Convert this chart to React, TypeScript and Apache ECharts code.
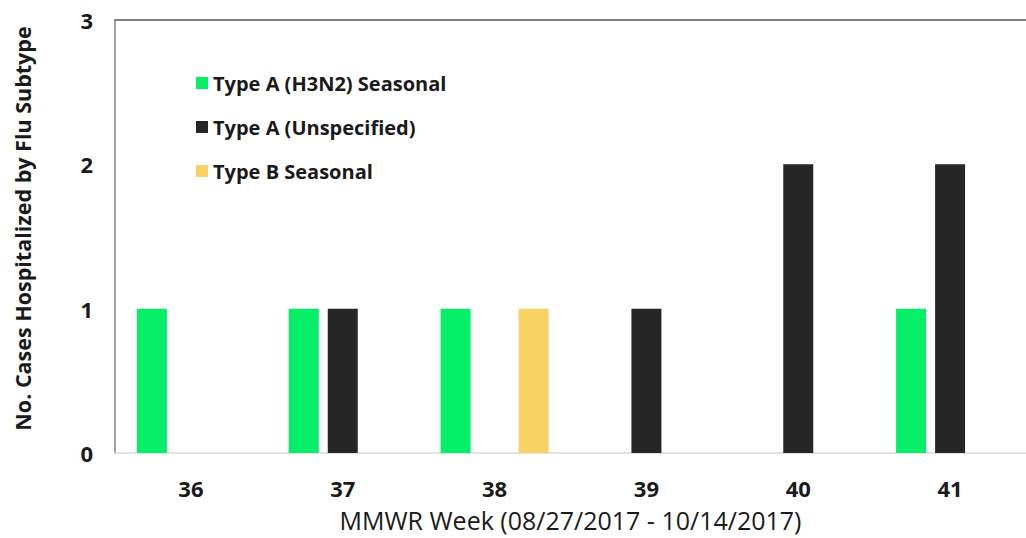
import React, { useEffect, useRef } from "react";
import * as echarts from "echarts";

const weeks = ["36", "37", "38", "39", "40", "41"];
const h3n2 = [1, 1, 1, 0, 0, 1];
const unspecified = [0, 1, 0, 1, 2, 2];
const typeB = [0, 0, 1, 0, 0, 0];
const yTicks = [0, 1, 2, 3];

const FONT = "'Open Sans', 'Noto Sans', sans-serif";

export default function App() {
  const ref = useRef<HTMLDivElement>(null);
  useEffect(() => {
    if (!ref.current) return;
    const chart = echarts.init(ref.current, undefined, { renderer: "svg" });
    const toData = (arr: number[]) => arr.map((v) => (v === 0 ? null : v));
    chart.setOption({
      animation: false,
      backgroundColor: "#ffffff",
      textStyle: { fontFamily: FONT },
      grid: { left: 115, right: -10, top: 20, bottom: 85 },
      legend: {
        orient: "vertical",
        left: 191,
        top: 68,
        itemWidth: 12,
        itemHeight: 12,
        itemGap: 24,
        icon: "rect",
        textStyle: { fontFamily: FONT, fontWeight: "bold", fontSize: 20, color: "#1a1a1a" },
        data: ["Type A (H3N2) Seasonal", "Type A (Unspecified)", "Type B Seasonal"],
      },
      xAxis: [
        {
          type: "category",
          data: weeks,
          boundaryGap: true,
          axisLine: { show: true, lineStyle: { color: "#d9d9d9", width: 1.5 } },
          axisTick: { show: false },
          axisLabel: { fontFamily: FONT, fontWeight: "bold", fontSize: 22, color: "#1a1a1a", margin: 24 },
          name: "MMWR Week (08/27/2017 - 10/14/2017)",
          nameLocation: "middle",
          nameGap: 54,
          nameTextStyle: { fontFamily: FONT, fontSize: 25, color: "#1a1a1a" },
        },
        {
          type: "category",
          data: weeks,
          position: "top",
          axisLine: { show: true, lineStyle: { color: "#808080", width: 2 } },
          axisTick: { show: false },
          axisLabel: { show: false },
        },
      ],
      yAxis: {
        type: "value",
        min: 0,
        max: 3,
        interval: 1,
        axisLine: { show: true, lineStyle: { color: "#808080", width: 1.5 } },
        axisTick: { show: false },
        splitLine: { show: false },
        axisLabel: {
          fontFamily: FONT,
          fontWeight: "bold",
          fontSize: 22,
          color: "#1a1a1a",
          margin: 22,
          formatter: (v: number) => (yTicks.includes(v) ? String(v) : ""),
        },
        name: "No. Cases Hospitalized by Flu Subtype",
        nameLocation: "middle",
        nameGap: 82,
        nameTextStyle: {
          fontFamily: FONT,
          fontWeight: "bold",
          fontSize: 21.5,
          color: "#1a1a1a",
          padding: [0, 0, 0, 16],
        },
      },
      series: [
        {
          name: "Type A (H3N2) Seasonal",
          type: "bar",
          data: toData(h3n2),
          barWidth: 30,
          barGap: "30%",
          itemStyle: { color: "#05ee67" },
        },
        {
          name: "Type A (Unspecified)",
          type: "bar",
          data: toData(unspecified),
          barWidth: 30,
          barGap: "30%",
          itemStyle: { color: "#262626" },
        },
        {
          name: "Type B Seasonal",
          type: "bar",
          data: toData(typeB),
          barWidth: 30,
          barGap: "30%",
          itemStyle: { color: "#f9d264" },
        },
      ],
    });
    return () => chart.dispose();
  }, []);
  return (
    <div
      ref={ref}
      style={{ position: "fixed", left: 0, top: 0, width: 1026, height: 538 }}
    />
  );
}
